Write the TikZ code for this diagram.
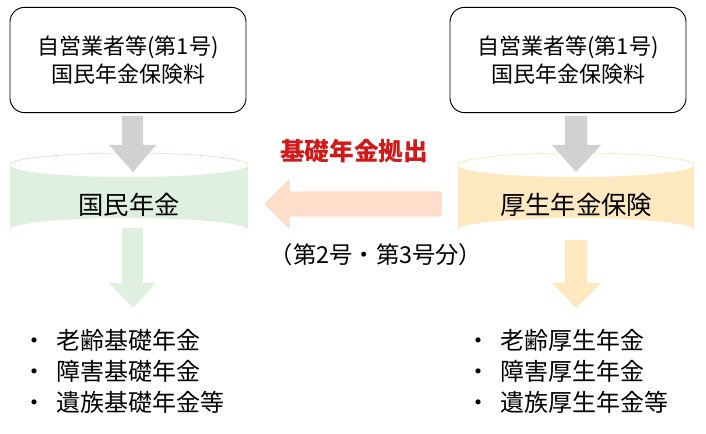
\documentclass[tikz,border=0pt]{standalone}
\usepackage{fontspec}
\setmainfont{Noto Sans CJK JP}
\begin{document}
\begin{tikzpicture}[x=0.75pt,y=-0.75pt,
  srcbox/.style={draw,rounded corners=11pt,minimum width=177pt,minimum height=79pt,align=center,font=\fontsize{16.5}{21}\selectfont,line width=0.7pt},
  txt/.style={font=\fontsize{19}{22}\selectfont},
  lst/.style={font=\fontsize{18}{23}\selectfont,align=left,anchor=north west}]
\useasboundingbox (0,0) rectangle (706,434);
\node[srcbox] (l) at (128,60) {自営業者等(第1号)\\国民年金保険料};
\node[srcbox] (r) at (568,60) {自営業者等(第1号)\\国民年金保険料};
% cylinders
\fill[green!50!black!12!white] (10,165) -- (10,230) arc[start angle=180,end angle=360,x radius=119,y radius=12] -- (248,165) arc[start angle=0,end angle=180,x radius=119,y radius=12] -- cycle;
\draw[green!50!black!18!white,line width=0.5pt] (10,165) arc[start angle=180,end angle=360,x radius=119,y radius=12];
\fill[yellow!30!orange!22!white] (458,165) -- (458,230) arc[start angle=180,end angle=360,x radius=118,y radius=12] -- (694,165) arc[start angle=0,end angle=180,x radius=118,y radius=12] -- cycle;
\draw[yellow!40!orange!28!white,line width=0.5pt] (458,165) arc[start angle=180,end angle=360,x radius=118,y radius=12];
\node[txt] (kn) at (129,205) {国民年金};
\node[txt] (kk) at (576,205) {厚生年金保険};
% gray arrows
\fill[black!18] (122,116) -- (143,116) -- (143,145) -- (156,145) -- (133,172) -- (109,145) -- (122,145) -- cycle;
\fill[black!18] (565,116) -- (587,116) -- (587,145) -- (601,145) -- (576,172) -- (552,145) -- (565,145) -- cycle;
% down arrows
\fill[green!50!black!12!white] (122,228) -- (143,228) -- (143,283) -- (156,283) -- (133,308) -- (109,283) -- (122,283) -- cycle;
\fill[yellow!30!orange!22!white] (565,240) -- (587,240) -- (587,283) -- (601,283) -- (576,308) -- (552,283) -- (565,283) -- cycle;
% middle arrow
\draw[fill=red!30!orange!20!white,draw=red!30!orange!30!white] (441,192) -- (289,192) -- (289,180) -- (265,204) -- (289,228) -- (289,216) -- (441,216) -- cycle;
\node[txt,text=red!80!black!90!white,font=\fontsize{18.5}{22}\selectfont\bfseries] (kiso) at (354,151) {基礎年金拠出};
\node[txt,font=\fontsize{17.5}{22}\selectfont] (bun) at (376,255) {（第2号・第3号分）};
\node[lst] (ll) at (18,325) {・\hspace{0.4em}老齢基礎年金\\・\hspace{0.4em}障害基礎年金\\・\hspace{0.4em}遺族基礎年金等};
\node[lst] (rl) at (462,325) {・\hspace{0.4em}老齢厚生年金\\・\hspace{0.4em}障害厚生年金\\・\hspace{0.4em}遺族厚生年金等};
\end{tikzpicture}
\end{document}
